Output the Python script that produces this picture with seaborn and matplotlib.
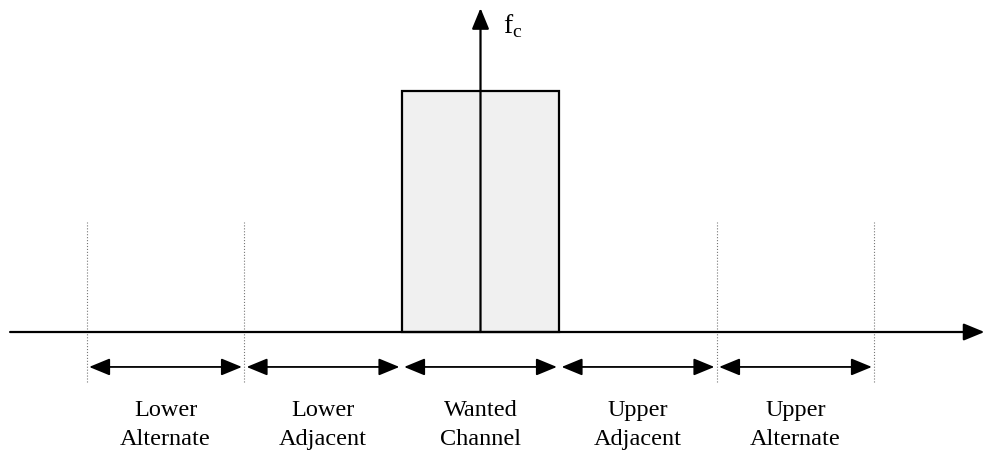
import matplotlib
matplotlib.use('Agg')
import matplotlib.pyplot as plt
import seaborn as sns

# Channel layout, in channel-bandwidth units around fc = 0
channel_names = ['Lower\nAlternate', 'Lower\nAdjacent', 'Wanted\nChannel',
                 'Upper\nAdjacent', 'Upper\nAlternate']
channel_centers = [-2, -1, 0, 1, 2]
channel_width = 1.0
wanted_level = 1.0          # height of the wanted channel block
marker_edges = [-2.5, -1.5, 1.5, 2.5]   # dotted boundary lines

sns.set_theme(style="white")
plt.rcParams['font.family'] = ['Liberation Serif', 'DejaVu Serif']
plt.rcParams['mathtext.fontset'] = 'custom'
plt.rcParams['mathtext.rm'] = 'Liberation Serif'
plt.rcParams['text.color'] = 'black'

fig = plt.figure(figsize=(9.84, 4.5), dpi=100)
ax = fig.add_axes([0, 0, 1, 1])
ax.set_xlim(-3.051, 3.197)
ax.set_ylim(-0.4896, 1.3776)
ax.axis('off')

head = '-|>,head_length=0.85,head_width=0.35'

# wanted channel block
ax.bar(0, wanted_level, width=channel_width, color='#f0f0f0',
       edgecolor='black', linewidth=1.6, zorder=2)

# frequency axis with arrow
ax.annotate('', xy=(3.2, 0), xytext=(-2.987, 0), annotation_clip=False,
            arrowprops=dict(arrowstyle=head, mutation_scale=15, lw=1.6,
                            color='black', shrinkA=0, shrinkB=0), zorder=3)

# carrier line fc
ax.annotate('', xy=(0, 1.344), xytext=(0, 0), annotation_clip=False,
            arrowprops=dict(arrowstyle=head, mutation_scale=15, lw=1.6,
                            color='black', shrinkA=0, shrinkB=0), zorder=3)
ax.text(0.146, 1.241, r'$\mathrm{f}_\mathrm{c}$', fontsize=20,
        ha='left', va='baseline', color='black')

# dotted channel boundaries
for x in marker_edges:
    ax.plot([x, x], [-0.207, 0.456], color='#777777', lw=0.8,
            linestyle=':', zorder=1)

# double arrows + labels per channel
gap = 0.015
for c, name in zip(channel_centers, channel_names):
    lo = c - channel_width / 2 + gap
    hi = c + channel_width / 2 - gap
    ax.annotate('', xy=(hi, -0.145), xytext=(lo, -0.145),
                arrowprops=dict(arrowstyle='<|-|>,head_length=0.85,head_width=0.35',
                                mutation_scale=15, lw=1.3, color='black',
                                shrinkA=0, shrinkB=0))
    top, bottom = name.split('\n')
    ax.text(c, -0.349, top, fontsize=17.5, ha='center', va='baseline', color='black')
    ax.text(c, -0.467, bottom, fontsize=17.5, ha='center', va='baseline', color='black')

plt.savefig('out.png', dpi=100)
plt.close()
